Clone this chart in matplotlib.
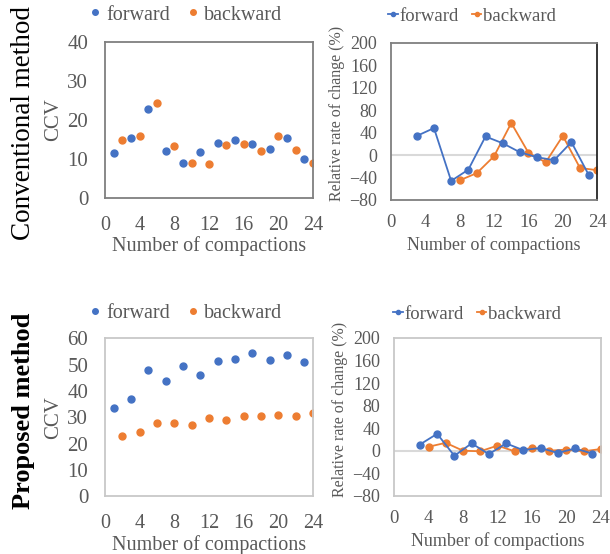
import matplotlib
import numpy as np

matplotlib.use("Agg")
import matplotlib.pyplot as plt

plt.rcParams["font.family"] = ["Liberation Serif", "DejaVu Serif"]

BLUE = "#4472C4"
ORANGE = "#ED7D31"
GRAY = "#595959"

# CCV values (conventional method)
conv_fwd_x = [1, 3, 5, 7, 9, 11, 13, 15, 17, 19, 21, 23]
conv_fwd_ccv = [11.5, 15.4, 22.7, 12.1, 9.0, 11.7, 14.0, 14.9, 13.9, 12.6, 15.4, 9.9]
conv_bwd_x = [2, 4, 6, 8, 10, 12, 14, 16, 18, 20, 22, 24]
conv_bwd_ccv = [14.8, 15.9, 24.3, 13.2, 8.9, 8.6, 13.5, 13.9, 12.0, 16.0, 12.2, 8.9]

# relative rate of change (conventional method)
conv_fwd_rate_x = [3, 5, 7, 9, 11, 13, 15, 17, 19, 21, 23]
conv_fwd_rate = [34, 48, -46, -26, 33, 21, 5, -4, -9, 23, -35]
conv_bwd_rate_x = [8, 10, 12, 14, 16, 18, 20, 22, 24]
conv_bwd_rate = [-45, -32, -2, 57, 4, -13, 34, -23, -27]

# CCV values (proposed method)
prop_fwd_x = [1, 3, 5, 7, 9, 11, 13, 15, 17, 19, 21, 23]
prop_fwd_ccv = [33.5, 37.0, 48.2, 43.8, 49.4, 46.1, 51.6, 52.1, 54.5, 51.8, 53.9, 50.9]
prop_bwd_x = [2, 4, 6, 8, 10, 12, 14, 16, 18, 20, 22, 24]
prop_bwd_ccv = [22.9, 24.4, 27.7, 27.7, 27.3, 29.6, 29.0, 30.5, 30.5, 30.9, 30.4, 31.6]

# relative rate of change (proposed method)
prop_fwd_rate_x = [3, 5, 7, 9, 11, 13, 15, 17, 19, 21, 23]
prop_fwd_rate = [11, 30, -9, 13, -6, 13, 1, 5, -4, 4, -5]
prop_bwd_rate_x = [4, 6, 8, 10, 12, 14, 16, 18, 20, 22, 24]
prop_bwd_rate = [7, 14, 0, -1, 9, -1, 5, 0, 2, -1, 3]

x_ticks = [0, 4, 8, 12, 16, 20, 24]
rate_ticks = [-80, -40, 0, 40, 80, 120, 160, 200]


def style_axis(axis, y_ticks, frame_color, right_color, size, x_pad, y_pad, x_label_size, x_label_pad):
  axis.set_xlim(0, 24)
  axis.set_ylim(y_ticks[0], y_ticks[-1])
  axis.set_xticks(x_ticks)
  axis.set_yticks(y_ticks)
  axis.tick_params(axis="x", length=0, labelsize=size[0], labelcolor=GRAY, pad=x_pad)
  axis.tick_params(axis="y", length=0, labelsize=size[1], labelcolor=GRAY, pad=y_pad)
  for side in axis.spines.values():
    side.set_color(frame_color)
    side.set_linewidth(1.3)
  axis.spines["right"].set_color(right_color)
  axis.set_xlabel("Number of compactions", fontsize=x_label_size, color=GRAY, labelpad=x_label_pad)


def scatter_panel(axis, fwd_x, fwd_y, bwd_x, bwd_y, y_ticks, frame_color, legend_y):
  axis.plot(fwd_x, fwd_y, "o", color=BLUE, markersize=5, label="forward")
  axis.plot(bwd_x, bwd_y, "o", color=ORANGE, markersize=5, label="backward")
  style_axis(axis, y_ticks, frame_color, frame_color, (14.5, 15), 13, 12, 14.5, 1)
  axis.set_ylabel("CCV", fontsize=15, color=GRAY, labelpad=3)
  axis.legend(
    loc="center left",
    bbox_to_anchor=(0.118, legend_y),
    bbox_transform=fig.transFigure,
    ncols=2,
    frameon=False,
    fontsize=14.5,
    labelcolor=GRAY,
    handlelength=0.5,
    handletextpad=0.3,
    columnspacing=0.9,
    markerscale=0.8,
  )


def rate_panel(axis, fwd_x, fwd_y, bwd_x, bwd_y, frame_color, right_color, legend_x, legend_y):
  axis.axhline(0, color="#d9d9d9", linewidth=1.5, zorder=1)
  axis.plot(fwd_x, fwd_y, "-o", color=BLUE, markersize=5, linewidth=1.3, label="forward", zorder=3)
  axis.plot(bwd_x, bwd_y, "-o", color=ORANGE, markersize=5, linewidth=1.3, label="backward", zorder=2)
  style_axis(axis, rate_ticks, frame_color, right_color, (13.5, 13), 10, 10, 13, 4)
  axis.set_ylabel("Relative rate of change (%)", fontsize=11.5, color=GRAY)
  axis.yaxis.set_label_coords(-0.225, 0.55)
  axis.legend(
    loc="center left",
    bbox_to_anchor=(legend_x, legend_y),
    bbox_transform=fig.transFigure,
    ncols=2,
    frameon=False,
    fontsize=13.5,
    labelcolor=GRAY,
    handlelength=0.5,
    handletextpad=0.1,
    columnspacing=0.7,
    markerscale=0.6,
  )


fig = plt.figure(figsize=(6.1, 5.54), dpi=100)
top_left = fig.add_axes([0.172, 0.643, 0.341, 0.281])
top_right = fig.add_axes([0.641, 0.639, 0.338, 0.284])
bottom_left = fig.add_axes([0.172, 0.104, 0.341, 0.285])
bottom_right = fig.add_axes([0.646, 0.105, 0.339, 0.285])

scatter_panel(top_left, conv_fwd_x, conv_fwd_ccv, conv_bwd_x, conv_bwd_ccv,
              [0, 10, 20, 30, 40], "#7f7f7f", 0.973)
rate_panel(top_right, conv_fwd_rate_x, conv_fwd_rate, conv_bwd_rate_x, conv_bwd_rate,
           "#7f7f7f", "#262626", 0.609, 0.971)
scatter_panel(bottom_left, prop_fwd_x, prop_fwd_ccv, prop_bwd_x, prop_bwd_ccv,
              [0, 10, 20, 30, 40, 50, 60], "#c8c8c8", 0.435)
rate_panel(bottom_right, prop_fwd_rate_x, prop_fwd_rate, prop_bwd_rate_x, prop_bwd_rate,
           "#c8c8c8", "#c8c8c8", 0.617, 0.433)

fig.text(0.038, 0.778, "Conventional method", rotation=90, fontsize=19.5,
         ha="center", va="center", color="black")
fig.text(0.038, 0.258, "Proposed method", rotation=90, fontsize=19, fontweight="bold",
         ha="center", va="center", color="black")

fig.savefig("out.png", dpi=100)
